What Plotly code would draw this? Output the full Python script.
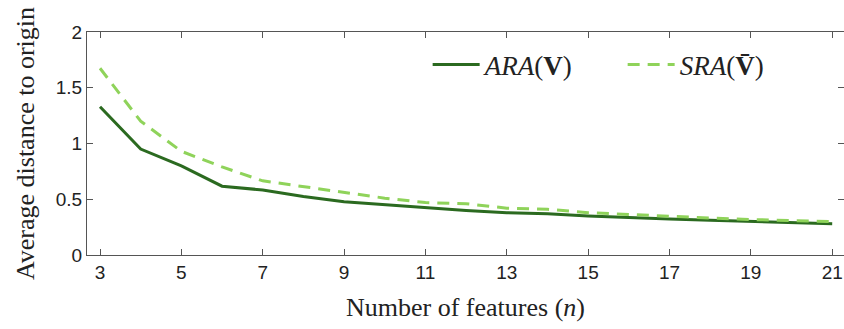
import plotly.graph_objects as go

n_features = list(range(3, 22))
ara = [1.33, 0.95, 0.80, 0.617, 0.583, 0.525, 0.478, 0.452, 0.42, 0.40, 0.38, 0.37, 0.35, 0.335, 0.322, 0.312, 0.302, 0.292, 0.28]
sra = [1.675, 1.20, 0.93, 0.79, 0.665, 0.615, 0.566, 0.51, 0.47, 0.46, 0.42, 0.41, 0.38, 0.362, 0.348, 0.332, 0.318, 0.31, 0.30]
x_ticks = [3, 5, 7, 9, 11, 13, 15, 17, 19, 21]
y_ticks = [0, 0.5, 1, 1.5, 2]
y_ticklabels = ["0", "0.5", "1", "1.5", "2"]

dark = "#2b6a20"
light = "#8fd35a"

fig = go.Figure()
fig.add_trace(go.Scatter(x=n_features, y=ara, mode="lines",
                         line=dict(color=dark, width=3),
                         name="<i>ARA</i>(<b>V</b>)"))
fig.add_trace(go.Scatter(x=n_features, y=sra, mode="lines",
                         line=dict(color=light, width=3, dash="12px,8px"),
                         name="<i>SRA</i>(<b>V\u0304</b>)"))

axis_common = dict(showgrid=False, zeroline=False, showline=True, linecolor="#555555",
                   linewidth=1, mirror="ticks", ticks="inside", ticklen=6, tickcolor="#555555",
                   tickfont=dict(family="Liberation Sans, Arial", size=19, color="#222222"))

fig.update_xaxes(range=[2.68, 21.29], tickvals=x_ticks,
                 title=dict(text="Number of features (<i>n</i>)",
                            font=dict(family="Liberation Serif, Times New Roman", size=26, color="#222222"),
                            standoff=16),
                 **axis_common)
fig.update_yaxes(range=[0, 2], tickvals=y_ticks, ticktext=y_ticklabels,
                 title=dict(text="Average distance to origin",
                            font=dict(family="Liberation Serif, Times New Roman", size=26, color="#222222"),
                            standoff=13),
                 **axis_common)

fig.update_layout(
    width=844, height=329,
    margin=dict(l=87, r=0, t=32, b=74, autoexpand=False),
    plot_bgcolor="white", paper_bgcolor="white",
    legend=dict(orientation="h", x=0.45, y=0.852, xanchor="left", yanchor="middle",
                font=dict(family="Liberation Serif, Times New Roman", size=27, color="#222222"),
                bgcolor="rgba(0,0,0,0)", itemwidth=47, tracegroupgap=0,
                entrywidthmode="pixels", entrywidth=133),
    showlegend=True,
)

fig.write_html("out.html")
